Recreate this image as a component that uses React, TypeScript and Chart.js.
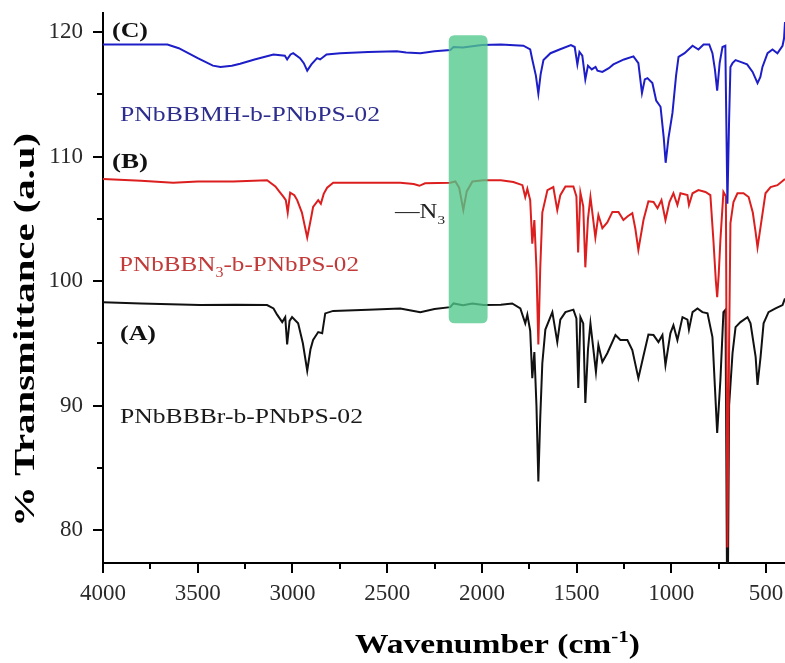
import React, { useEffect, useRef } from 'react';
import { Chart, registerables } from 'chart.js';

Chart.register(...registerables);

// ---------- Data ----------
const blueWavenumbers = [4000, 3800, 3660, 3600, 3500, 3420, 3380, 3320, 3276, 3200, 3100, 3040, 3028, 3010, 2996, 2960, 2940, 2922, 2900, 2870, 2854, 2820, 2748, 2600, 2450, 2400, 2325, 2250, 2167, 2150, 2100, 2050, 2000, 1900, 1781, 1745, 1734, 1715, 1702, 1690, 1675, 1638, 1590, 1530, 1510, 1496, 1485, 1470, 1454, 1440, 1420, 1400, 1390, 1364, 1330, 1306, 1250, 1200, 1174, 1155, 1140, 1126, 1100, 1080, 1057, 1040, 1030, 1015, 994, 975, 962, 930, 888, 857, 830, 800, 783, 770, 758, 745, 730, 715, 704, 695, 688, 677, 661, 635, 600, 571, 545, 530, 519, 492, 466, 440, 413, 405, 400];
const blueValues = [119.0, 119.0, 119.0, 118.7, 117.9, 117.3, 117.2, 117.3, 117.45, 117.8, 118.2, 118.1, 117.8, 118.2, 118.3, 117.9, 117.5, 116.9, 117.4, 117.9, 117.8, 118.2, 118.3, 118.4, 118.45, 118.35, 118.3, 118.45, 118.55, 118.8, 118.75, 118.85, 118.95, 119.0, 118.9, 118.6, 117.8, 116.5, 115.05, 116.6, 117.75, 118.3, 118.6, 118.95, 118.8, 117.4, 118.4, 118.1, 116.2, 117.3, 117.0, 117.2, 116.9, 116.8, 117.1, 117.4, 117.8, 118.05, 117.5, 115.1, 116.2, 116.3, 115.9, 114.5, 114.0, 111.5, 109.5, 111.5, 113.5, 116.5, 118.0, 118.3, 118.9, 118.6, 119.0, 119.0, 118.3, 117.0, 115.3, 117.5, 118.8, 118.9, 106.2, 113.0, 117.2, 117.5, 117.75, 117.6, 117.4, 116.8, 115.9, 116.4, 117.2, 118.3, 118.6, 118.3, 118.9, 119.5, 120.8];

const redWavenumbers = [4000, 3800, 3630, 3500, 3313, 3134, 3090, 3070, 3049, 3035, 3025, 3012, 2990, 2975, 2950, 2922, 2900, 2891, 2864, 2850, 2835, 2817, 2785, 2600, 2431, 2360, 2330, 2300, 2167, 2140, 2120, 2098, 2080, 2050, 1992, 1900, 1834, 1786, 1771, 1760, 1745, 1734, 1723, 1712, 1702, 1692, 1681, 1654, 1623, 1602, 1586, 1559, 1517, 1501, 1492, 1480, 1465, 1454, 1440, 1427, 1401, 1385, 1364, 1338, 1311, 1279, 1253, 1230, 1206, 1190, 1174, 1147, 1121, 1094, 1073, 1052, 1031, 1010, 989, 968, 952, 915, 907, 888, 857, 820, 794, 778, 765, 758, 750, 741, 725, 712, 704, 695, 688, 672, 651, 619, 592, 570, 555, 545, 529, 503, 476, 440, 408, 400];
const redValues = [108.2, 108.05, 107.9, 108.0, 108.0, 108.1, 107.6, 107.2, 106.8, 106.5, 105.5, 107.1, 106.9, 106.5, 105.5, 103.5, 105.2, 105.95, 106.5, 106.2, 107.0, 107.5, 107.9, 107.9, 107.9, 107.8, 107.65, 107.85, 107.9, 108.0, 107.5, 105.7, 107.2, 108.0, 108.1, 108.1, 107.95, 107.7, 106.75, 107.4, 106.5, 103.0, 104.9, 101.0, 94.9, 101.0, 105.5, 107.3, 107.55, 105.7, 106.9, 107.6, 107.6, 106.8, 102.3, 107.1, 106.0, 101.1, 105.0, 106.75, 103.5, 105.3, 104.25, 104.7, 105.55, 105.55, 104.9, 105.2, 105.45, 104.2, 102.5, 104.9, 106.4, 106.35, 105.85, 106.5, 104.9, 106.35, 107.05, 106.1, 107.05, 106.9, 106.1, 107.05, 107.3, 107.15, 106.9, 103.3, 100.0, 98.7, 100.5, 103.3, 107.15, 106.8, 78.6, 95.0, 104.65, 106.35, 107.05, 107.05, 106.75, 105.5, 103.9, 102.7, 104.35, 107.05, 107.55, 107.7, 108.1, 108.2];

const blackWavenumbers = [4000, 3800, 3488, 3300, 3134, 3100, 3081, 3054, 3038, 3028, 3015, 3002, 2970, 2945, 2922, 2905, 2891, 2864, 2843, 2827, 2785, 2600, 2431, 2360, 2325, 2250, 2167, 2150, 2100, 2050, 1992, 1900, 1840, 1797, 1771, 1760, 1745, 1734, 1723, 1712, 1702, 1692, 1681, 1665, 1628, 1602, 1586, 1559, 1517, 1501, 1491, 1480, 1465, 1454, 1440, 1427, 1411, 1398, 1385, 1364, 1338, 1295, 1269, 1232, 1206, 1174, 1147, 1121, 1094, 1068, 1047, 1031, 1005, 989, 968, 941, 915, 907, 888, 862, 836, 809, 783, 770, 758, 741, 725, 714, 704, 695, 677, 661, 635, 598, 582, 555, 545, 529, 513, 487, 450, 413, 400];
const blackValues = [98.3, 98.2, 98.07, 98.1, 98.07, 97.8, 97.3, 96.7, 97.1, 94.9, 96.8, 97.1, 96.6, 95.0, 92.8, 94.5, 95.26, 95.9, 95.8, 97.4, 97.6, 97.7, 97.8, 97.6, 97.5, 97.75, 97.9, 98.2, 98.05, 98.2, 98.07, 98.1, 98.2, 97.8, 96.6, 97.3, 96.0, 92.2, 94.3, 90.0, 83.9, 89.0, 93.4, 96.1, 97.5, 95.1, 96.9, 97.5, 97.7, 97.0, 91.4, 97.1, 96.6, 90.2, 94.5, 96.6, 94.45, 92.7, 94.86, 93.5, 94.2, 95.66, 95.26, 95.26, 94.45, 92.2, 94.0, 95.7, 95.66, 95.1, 95.66, 93.25, 95.8, 96.45, 95.26, 97.1, 96.9, 96.1, 97.5, 97.8, 97.5, 97.4, 95.5, 91.5, 87.8, 92.05, 97.5, 97.7, 70.0, 90.0, 94.2, 96.3, 96.7, 97.1, 96.6, 93.9, 91.65, 93.9, 96.6, 97.5, 97.8, 98.07, 98.6];

const xMajorTicks = [4000, 3500, 3000, 2500, 2000, 1500, 1000, 500];
const xMinorTicks = [3750, 3250, 2750, 2250, 1750, 1250, 750];
const yMajorTicks = [80, 90, 100, 110, 120];
const yMinorTicks = [85, 95, 105, 115];

const seriesNames = ['PNbBBMH-b-PNbPS-02', 'PNbBBN3-b-PNbPS-02', 'PNbBBBr-b-PNbPS-02'];
const panelLetters = ['(C)', '(B)', '(A)'];
const highlightWavenumbers = [2175, 1970];
const highlightValues = [119.75, 96.6];
const azideLabel = '—N3';
const xTitle = 'Wavenumber (cm-1)';
const yTitle = '% Transmittance (a.u)';

// ---------- Styling ----------
const SERIF = '"Liberation Serif", "Times New Roman", Times, serif';
const BLUE_LINE = '#1e1ec8';
const RED_LINE = '#dc1e1e';
const BLACK_LINE = '#111111';
const BLUE_TEXT = '#2e2e8e';
const RED_TEXT = '#c23a3a';

type Part = { t: string; sub?: boolean; sup?: boolean };

function drawRich(
  ctx: CanvasRenderingContext2D,
  parts: Part[],
  x: number,
  y: number,
  size: number,
  weight: string,
  color: string,
  targetWidth?: number,
  align: 'left' | 'center' = 'left'
) {
  const fontFor = (p: Part) => `${weight} ${p.sub || p.sup ? Math.round(size * 0.62) : size}px ${SERIF}`;
  let w = 0;
  for (const p of parts) {
    ctx.font = fontFor(p);
    w += ctx.measureText(p.t).width;
  }
  const sx = targetWidth ? targetWidth / w : 1;
  ctx.save();
  ctx.translate(x, y);
  if (align === 'center') ctx.translate(-(w * sx) / 2, 0);
  ctx.scale(sx, 1);
  ctx.fillStyle = color;
  ctx.textBaseline = 'alphabetic';
  ctx.textAlign = 'left';
  let cx = 0;
  for (const p of parts) {
    ctx.font = fontFor(p);
    const dy = p.sub ? size * 0.28 : p.sup ? -size * 0.4 : 0;
    ctx.fillText(p.t, cx, dy);
    cx += ctx.measureText(p.t).width;
  }
  ctx.restore();
}

function splitSub(label: string): Part[] {
  const i = label.indexOf('N3');
  if (i < 0) return [{ t: label }];
  return [{ t: label.slice(0, i + 1) }, { t: '3', sub: true }, { t: label.slice(i + 2) }];
}

const decorPlugin = {
  id: 'decor',
  afterDatasetsDraw(chart: any) {
    const { ctx, scales } = chart;
    const xs = scales.x;
    const ys = scales.y;
    const x1 = xs.getPixelForValue(highlightWavenumbers[0]);
    const x2 = xs.getPixelForValue(highlightWavenumbers[1]);
    const y1 = ys.getPixelForValue(highlightValues[0]);
    const y2 = ys.getPixelForValue(highlightValues[1]);
    ctx.save();
    ctx.fillStyle = 'rgba(80, 200, 140, 0.78)';
    ctx.beginPath();
    const r = 6;
    const L = Math.min(x1, x2), T = Math.min(y1, y2), W = Math.abs(x2 - x1), H = Math.abs(y2 - y1);
    ctx.moveTo(L + r, T);
    ctx.lineTo(L + W - r, T);
    ctx.quadraticCurveTo(L + W, T, L + W, T + r);
    ctx.lineTo(L + W, T + H - r);
    ctx.quadraticCurveTo(L + W, T + H, L + W - r, T + H);
    ctx.lineTo(L + r, T + H);
    ctx.quadraticCurveTo(L, T + H, L, T + H - r);
    ctx.lineTo(L, T + r);
    ctx.quadraticCurveTo(L, T, L + r, T);
    ctx.closePath();
    ctx.fill();
    ctx.restore();
  },
  afterDraw(chart: any) {
    const { ctx, scales, chartArea } = chart;
    const xs = scales.x;
    const ys = scales.y;
    ctx.save();
    ctx.strokeStyle = '#000';
    ctx.lineWidth = 2;
    const drawX = (v: number, len: number) => {
      const px = Math.round(xs.getPixelForValue(v));
      ctx.beginPath();
      ctx.moveTo(px, chartArea.bottom);
      ctx.lineTo(px, chartArea.bottom + len);
      ctx.stroke();
    };
    xMajorTicks.forEach((v) => drawX(v, 10));
    xMinorTicks.forEach((v) => drawX(v, 6));
    const drawY = (v: number, len: number) => {
      const py = Math.round(ys.getPixelForValue(v));
      ctx.beginPath();
      ctx.moveTo(chartArea.left, py);
      ctx.lineTo(chartArea.left - len, py);
      ctx.stroke();
    };
    yMajorTicks.forEach((v) => drawY(v, 10));
    yMinorTicks.forEach((v) => drawY(v, 6));
    ctx.restore();

    // panel letters
    drawRich(ctx, [{ t: panelLetters[0] }], 112, 37, 20, 'bold', '#111', 36);
    drawRich(ctx, [{ t: panelLetters[1] }], 112, 168, 20, 'bold', '#111', 36);
    drawRich(ctx, [{ t: panelLetters[2] }], 120, 340, 20, 'bold', '#111', 36);

    // series names
    drawRich(ctx, splitSub(seriesNames[0]), 120, 121, 22, 'normal', BLUE_TEXT, 260);
    drawRich(ctx, splitSub(seriesNames[1]), 119, 271, 22, 'normal', RED_TEXT, 240);
    drawRich(ctx, splitSub(seriesNames[2]), 120, 423, 22, 'normal', '#1a1a1a', 243);

    // azide marker
    drawRich(ctx, splitSub(azideLabel), 395, 218, 21, 'normal', '#222', 50);

    // axis titles
    const xt = xTitle.split('-1');
    drawRich(ctx, [{ t: xt[0] }, { t: '-1', sup: true }, { t: xt[1] }], 355, 653, 27, 'bold', '#000', 285);
    ctx.save();
    ctx.translate(34, 330);
    ctx.rotate(-Math.PI / 2);
    drawRich(ctx, [{ t: yTitle }], 0, 0, 29, 'bold', '#000', 394, 'center');
    ctx.restore();
  },
};

const toPoints = (xs: number[], ys: number[]) => xs.map((x, i) => ({ x, y: ys[i] }));

export default function App() {
  const ref = useRef<HTMLCanvasElement | null>(null);

  useEffect(() => {
    document.body.style.margin = '0';
    const canvas = ref.current;
    if (!canvas) return;
    const tickFont = { family: SERIF, size: 23 };
    const chart = new Chart(canvas, {
      type: 'line',
      data: {
        datasets: [
          { label: seriesNames[0], data: toPoints(blueWavenumbers, blueValues), borderColor: BLUE_LINE, borderWidth: 2, pointRadius: 0, tension: 0 },
          { label: seriesNames[1], data: toPoints(redWavenumbers, redValues), borderColor: RED_LINE, borderWidth: 2, pointRadius: 0, tension: 0 },
          { label: seriesNames[2], data: toPoints(blackWavenumbers, blackValues), borderColor: BLACK_LINE, borderWidth: 2, pointRadius: 0, tension: 0 },
        ],
      },
      options: {
        animation: false,
        responsive: false,
        events: [],
        layout: { padding: { top: 13, right: 0, left: 0, bottom: 0 } },
        plugins: { legend: { display: false }, tooltip: { enabled: false }, title: { display: false } },
        scales: {
          x: {
            type: 'linear',
            reverse: true,
            min: 400,
            max: 4000,
            afterBuildTicks: (s: any) => {
              s.ticks = xMajorTicks.map((v) => ({ value: v }));
            },
            afterFit: (s: any) => {
              s.height = 100;
              s.paddingLeft = 0;
              s.paddingRight = 0;
            },
            ticks: {
              padding: 17,
              font: tickFont,
              color: '#2a2a2a',
              maxRotation: 0,
              minRotation: 0,
              autoSkip: false,
              callback: (v: any) => String(v),
            },
            grid: { display: true, drawOnChartArea: false, drawTicks: false },
            border: { display: true, color: '#000', width: 2 },
          },
          y: {
            type: 'linear',
            min: 77.35,
            max: 121.53,
            afterBuildTicks: (s: any) => {
              s.ticks = yMajorTicks.map((v) => ({ value: v }));
            },
            afterFit: (s: any) => {
              s.width = 103;
              s.paddingTop = 0;
              s.paddingBottom = 0;
            },
            ticks: {
              padding: 20,
              font: tickFont,
              color: '#2a2a2a',
              autoSkip: false,
              callback: (v: any) => String(v),
            },
            grid: { display: true, drawOnChartArea: false, drawTicks: false },
            border: { display: true, color: '#000', width: 2 },
          },
        },
      } as any,
      plugins: [decorPlugin],
    });
    return () => chart.destroy();
  }, []);

  return (
    <div style={{ width: 785, height: 663, background: '#fff' }}>
      <canvas ref={ref} width={785} height={663} style={{ display: 'block' }} />
    </div>
  );
}
